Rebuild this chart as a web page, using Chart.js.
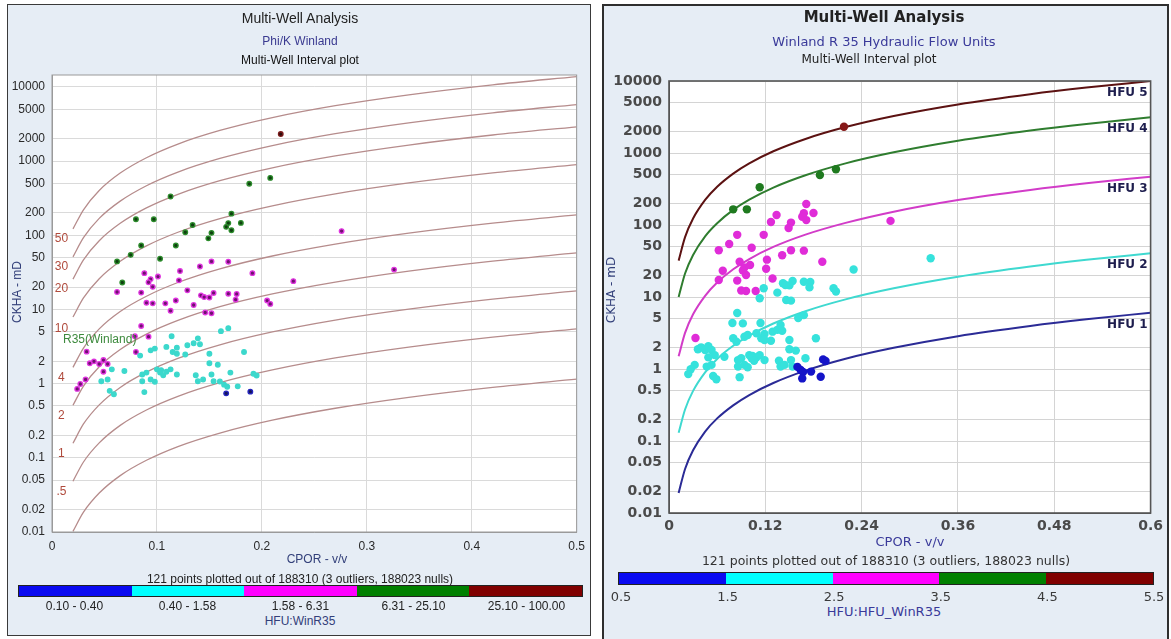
<!DOCTYPE html>
<html>
<head>
<meta charset="utf-8">
<script src="https://cdn.jsdelivr.net/npm/chart.js@4.4.1/dist/chart.umd.min.js"></script>
<style>
  body { margin: 0; width: 1171px; height: 639px; position: relative; overflow: hidden; background: #fff; }
  .panel { position: absolute; background: #e6edf5; box-sizing: border-box; }
  #panelL { left: 7px; top: 4px; width: 584px; height: 632px; border: 1px solid #3a3a3a; }
  #panelR { left: 602px; top: 4px; width: 567px; height: 645px; border: 2px solid #2e2e2e; }
  .txt { position: absolute; white-space: nowrap; transform: translate(-50%, -50%); line-height: 1; }
  .L { font-family: "Liberation Sans", Arial, sans-serif; }
  .R { font-family: "DejaVu Sans", Verdana, sans-serif; }
  .vert { transform: translate(-50%, -50%) rotate(-90deg); }
  canvas { position: absolute; }
  .bar { position: absolute; display: flex; border: 1px solid #222; box-sizing: border-box; }
  .bar div { flex: 1; }
</style>
</head>
<body>
<div class="panel" id="panelL"></div>
<div class="panel" id="panelR"></div>

<canvas id="chartL" width="592" height="572" style="left:0;top:0"></canvas>
<canvas id="chartR" width="565" height="550" style="left:603px;top:0"></canvas>

<!-- left panel text -->
<div class="txt L" style="left:300px;top:18px;font-size:14px;color:#222">Multi-Well Analysis</div>
<div class="txt L" style="left:300px;top:41px;font-size:12px;color:#3a3a90">Phi/K Winland</div>
<div class="txt L" style="left:300px;top:60px;font-size:12px;color:#111">Multi-Well Interval plot</div>
<div class="txt L vert" style="left:17px;top:292px;font-size:12px;color:#33407a">CKHA - mD</div>
<div class="txt L" style="left:317px;top:559px;font-size:12px;color:#33407a">CPOR - v/v</div>
<div class="txt L" style="left:300px;top:579px;font-size:12px;color:#222">121 points plotted out of 188310 (3 outliers, 188023 nulls)</div>
<div class="txt L" style="left:300px;top:621px;font-size:12px;color:#33407a">HFU:WinR35</div>

<!-- right panel text -->
<div class="txt R" style="left:884px;top:17px;font-size:15px;font-weight:bold;color:#222">Multi-Well Analysis</div>
<div class="txt R" style="left:884px;top:41px;font-size:13px;color:#3a3a9a">Winland R 35 Hydraulic Flow Units</div>
<div class="txt R" style="left:869px;top:59px;font-size:12px;color:#222">Multi-Well Interval plot</div>
<div class="txt R vert" style="left:611px;top:290px;font-size:12px;color:#33407a">CKHA - mD</div>
<div class="txt R" style="left:910px;top:541px;font-size:13px;color:#3a3a9a">CPOR - v/v</div>
<div class="txt R" style="left:886px;top:561px;font-size:12.5px;color:#333">121 points plotted out of 188310 (3 outliers, 188023 nulls)</div>
<div class="txt R" style="left:884px;top:611px;font-size:13px;color:#3a3a9a">HFU:HFU_WinR35</div>

<script>
// ---- axis ticks ----
const yTicks = [0.01, 0.02, 0.05, 0.1, 0.2, 0.5, 1, 2, 5, 10, 20, 50, 100, 200, 500, 1000, 2000, 5000, 10000];
const xTicksLeft = [0, 0.1, 0.2, 0.3, 0.4, 0.5];
const xTicksRight = [0, 0.12, 0.24, 0.36, 0.48, 0.6];

// ---- Winland R35 iso-lines on the left plot (K read at these porosities) ----
const isoPhi = [0.02, 0.03, 0.045, 0.065, 0.09, 0.12, 0.16, 0.21, 0.27, 0.34, 0.42, 0.5];
const isoR02 = [0.0102, 0.0185, 0.0335, 0.0576, 0.0927, 0.142, 0.216, 0.322, 0.466, 0.654, 0.892, 1.15];
const isoR05 = [0.0484, 0.0879, 0.159, 0.274, 0.441, 0.674, 1.03, 1.53, 2.22, 3.11, 4.24, 5.48];
const isoR1 = [0.157, 0.286, 0.518, 0.89, 1.43, 2.19, 3.34, 4.98, 7.21, 10.1, 13.8, 17.8];
const isoR2 = [0.512, 0.929, 1.69, 2.89, 4.66, 7.12, 10.9, 16.2, 23.4, 32.9, 44.9, 57.9];
const isoR4 = [1.66, 3.02, 5.48, 9.4, 15.1, 23.1, 35.3, 52.6, 76.1, 107, 146, 188];
const isoR10 = [7.91, 14.3, 26.0, 44.7, 72.0, 110, 168, 250, 362, 508, 693, 895];
const isoR20 = [25.7, 46.6, 84.5, 145, 234, 357, 545, 813, 1176, 1649, 2250, 2906];
const isoR30 = [51.2, 92.9, 169, 289, 466, 712, 1086, 1621, 2344, 3287, 4486, 5794];
const isoR50 = [122, 221, 402, 690, 1111, 1698, 2589, 3863, 5587, 7837, 10694, 13812];
const isoNames = ['', '.5', '1', '2', '4', '10', '20', '30', '50'];

// ---- HFU curves on the right plot ----
const hfuPhi = [0.012, 0.02, 0.03, 0.045, 0.06, 0.08, 0.1, 0.13, 0.17, 0.22, 0.28, 0.36, 0.45, 0.52, 0.6];
const hfu1Line = [0.019, 0.0409, 0.0742, 0.135, 0.206, 0.313, 0.435, 0.639, 0.949, 1.39, 1.97, 2.86, 3.96, 4.9, 6.05];
const hfu2Line = [0.13, 0.274, 0.497, 0.9, 1.38, 2.1, 2.91, 4.28, 6.35, 9.27, 13.2, 19.1, 26.5, 32.8, 40.5];
const hfu3Line = [1.5, 3.17, 5.75, 10.4, 15.9, 24.3, 33.7, 49.6, 73.5, 107, 153, 222, 307, 380, 469];
const hfu4Line = [10, 21.2, 38.4, 69.7, 106, 162, 225, 331, 491, 717, 1021, 1478, 2051, 2537, 3130];
const hfu5Line = [32, 68, 123, 223, 340, 518, 719, 1057, 1568, 2290, 3263, 4723, 6553, 8105, 10000];
const hfuNames = ['HFU 1', 'HFU 2', 'HFU 3', 'HFU 4', 'HFU 5'];

// ---- samples (CPOR v/v, CKHA mD), grouped by HFU ----
const hfu1Phi = [0.160, 0.164, 0.167, 0.166, 0.177, 0.189, 0.192, 0.195];
const hfu1K = [1.07, 0.97, 0.91, 0.74, 0.92, 0.78, 1.36, 1.29];
const hfu2Phi = [0.142, 0.154, 0.150, 0.145, 0.168, 0.176, 0.175, 0.118, 0.135, 0.146, 0.152, 0.113, 0.205, 0.208, 0.230, 0.326,
  0.085, 0.079, 0.092, 0.114, 0.161, 0.168, 0.129, 0.135, 0.141, 0.119, 0.080, 0.084, 0.094, 0.098, 0.109, 0.115, 0.119, 0.127, 0.150, 0.183, 0.150, 0.158, 0.139,
  0.036, 0.040, 0.045, 0.049, 0.053, 0.057, 0.049, 0.069, 0.086, 0.090, 0.100, 0.104, 0.109, 0.113, 0.103, 0.106, 0.119, 0.137, 0.152, 0.170,
  0.032, 0.027, 0.024, 0.047, 0.053, 0.086, 0.094, 0.098, 0.139, 0.144, 0.154, 0.055, 0.059, 0.088];
const hfu2K = [15.5, 16.7, 14.5, 14.7, 16.3, 16.2, 13.6, 13.2, 11.5, 9.1, 8.9, 9.6, 13.2, 11.9, 24.1, 34.5,
  6.0, 4.35, 4.3, 4.35, 5.1, 5.6, 3.3, 3.5, 3.4, 3.06, 2.67, 2.39, 2.81, 2.97, 3.13, 2.67, 2.53, 2.47, 2.53, 2.67, 1.88, 1.80, 4.08,
  1.88, 2.0, 1.84, 2.08, 1.84, 1.56, 1.45, 1.48, 1.33, 1.41, 1.56, 1.52, 1.45, 1.56, 1.41, 1.30, 1.33, 1.30, 1.33, 1.41,
  1.14, 0.99, 0.85, 1.08, 1.14, 1.08, 1.14, 1.06, 1.08, 1.14, 1.08, 0.80, 0.72, 0.77];
const hfu3Phi = [0.171, 0.168, 0.180, 0.166, 0.171, 0.134, 0.127, 0.152, 0.149, 0.085, 0.118, 0.062, 0.075, 0.103, 0.152, 0.168, 0.141,
  0.122, 0.088, 0.101, 0.094, 0.191, 0.067, 0.121, 0.092, 0.096, 0.062, 0.085, 0.129, 0.096, 0.108, 0.090, 0.033, 0.276];
const hfu3K = [196, 146, 147, 130, 117, 138, 110, 108, 91, 73, 73, 44.5, 54.5, 48.4, 44.5, 44, 38,
  33, 30.9, 27.8, 25.7, 30.9, 23.1, 24.7, 23.3, 20.2, 17.2, 16.9, 18.1, 12.1, 12.1, 12.3, 2.7, 114];
const hfu4Phi = [0.113, 0.080, 0.097, 0.188, 0.208];
const hfu4K = [334, 165, 165, 495, 594];
const hfu5Phi = [0.218];
const hfu5K = [2317];

// ---- colour bar legends ----
const winBins = [0.1, 0.4, 1.58, 6.31, 25.1, 100];
const winBinLabels = ['0.10 - 0.40', '0.40 - 1.58', '1.58 - 6.31', '6.31 - 25.10', '25.10 - 100.00'];
const hfuBarTicks = ['0.5', '1.5', '2.5', '3.5', '4.5', '5.5'];

// ---- styles ----
const barColors = ['#0a0af0', '#00ffff', '#ff00ff', '#008000', '#800000'];
const hfuDot = ['#1414c8', '#36e2dc', '#e02cd8', '#1f7a1f', '#861818'];
const hfuLineColor = ['#2b2b96', '#3fd9d0', '#d23cc8', '#2f7d2f', '#5c1212'];
const winFill = ['#15155a', '#3cd8cc', '#6e126e', '#0f400f', '#2e0b0b'];
const winEdge = ['#2424c0', '#3cd8cc', '#e034e0', '#2c8c2c', '#7a1a1a'];
const isoLabelDy = [0, 10, 10, 10, 10, 12, 10, 10, 10];

const isoSets = [isoR02, isoR05, isoR1, isoR2, isoR4, isoR10, isoR20, isoR30, isoR50];
const hfuLines = [hfu1Line, hfu2Line, hfu3Line, hfu4Line, hfu5Line];
const groupPhi = [hfu1Phi, hfu2Phi, hfu3Phi, hfu4Phi, hfu5Phi];
const groupK = [hfu1K, hfu2K, hfu3K, hfu4K, hfu5K];

function toXY(xs, ys) {
  return xs.map((x, i) => ({ x: x, y: ys[i] }));
}

// colour class on the left plot = WinR35 bin
function winClass(phi, k) {
  const r35 = Math.pow(10, 0.732 + 0.588 * Math.log10(k) - 0.864 * Math.log10(phi * 100));
  let c = 0;
  while (c < 4 && r35 >= winBins[c + 1]) c++;
  return c;
}

// ---- colour bars (html) ----
function makeBar(left, top, width, height) {
  const bar = document.createElement('div');
  bar.className = 'bar';
  bar.style.cssText = `left:${left}px;top:${top}px;width:${width}px;height:${height}px`;
  barColors.forEach(col => {
    const seg = document.createElement('div');
    seg.style.background = col;
    bar.appendChild(seg);
  });
  document.body.appendChild(bar);
}
function addText(x, y, str, cls, css) {
  const d = document.createElement('div');
  d.className = 'txt ' + cls;
  d.style.cssText = `left:${x}px;top:${y}px;` + css;
  d.textContent = str;
  document.body.appendChild(d);
}

makeBar(18, 585, 565, 12);
winBinLabels.forEach((s, i) => addText(18 + 565 / 10 * (2 * i + 1), 606, s, 'L', 'font-size:12px;color:#222'));
makeBar(618, 572, 536, 13);
hfuBarTicks.forEach((s, i) => addText(621 + 533 / 5 * i, 596, s, 'R', 'font-size:13px;color:#3a3a3a'));

// ---- plugins ----
const plotFrame = {
  id: 'plotFrame',
  beforeDraw(chart) {
    const a = chart.chartArea, c = chart.ctx;
    c.save();
    c.fillStyle = '#ffffff';
    c.fillRect(a.left, a.top, a.right - a.left, a.bottom - a.top);
    c.restore();
  },
  afterDraw(chart, args, opts) {
    const a = chart.chartArea, c = chart.ctx;
    c.save();
    c.strokeStyle = opts.color;
    c.lineWidth = opts.width;
    c.strokeRect(a.left, a.top, a.right - a.left, a.bottom - a.top);
    c.restore();
  }
};

const isoLabels = {
  id: 'isoLabels',
  afterDatasetsDraw(chart) {
    const xs = chart.scales.x, ys = chart.scales.y, c = chart.ctx;
    c.save();
    c.font = '12px "Liberation Sans", Arial, sans-serif';
    c.fillStyle = '#b04a3c';
    c.textAlign = 'center';
    c.textBaseline = 'middle';
    isoSets.forEach((arr, i) => {
      if (!isoNames[i]) return;
      c.fillText(isoNames[i], xs.getPixelForValue(0.009), ys.getPixelForValue(arr[0]) + isoLabelDy[i]);
    });
    c.fillStyle = '#3d8a3d';
    c.textAlign = 'left';
    c.fillText('R35(Winland)', xs.getPixelForValue(0.0105), ys.getPixelForValue(3.9));
    c.restore();
  }
};

const hfuLabels = {
  id: 'hfuLabels',
  afterDatasetsDraw(chart) {
    const ys = chart.scales.y, a = chart.chartArea, c = chart.ctx;
    c.save();
    c.font = 'bold 12px "DejaVu Sans", Verdana, sans-serif';
    c.fillStyle = '#1e1e4e';
    c.textAlign = 'right';
    c.textBaseline = 'middle';
    hfuLines.forEach((arr, i) => {
      c.fillText(hfuNames[i], a.right - 3, ys.getPixelForValue(arr[arr.length - 1]) + 12);
    });
    c.restore();
  }
};

// ---- left chart: Phi/K Winland ----
const allPhi = [].concat(...groupPhi);
const allK = [].concat(...groupK);
const leftCls = allPhi.map((p, i) => winClass(p, allK[i]));

const leftSets = isoSets.map(arr => ({
  data: toXY(isoPhi, arr),
  showLine: true,
  borderColor: '#b68c8c',
  borderWidth: 1.3,
  pointRadius: 0,
  cubicInterpolationMode: 'monotone'
}));
leftSets.unshift({
  data: toXY(allPhi, allK),
  pointRadius: 2.3,
  pointBorderWidth: 1.3,
  pointBackgroundColor: leftCls.map(c => winFill[c]),
  pointBorderColor: leftCls.map(c => winEdge[c])
});

const fontL = { family: '"Liberation Sans", Arial, sans-serif', size: 12 };

new Chart(document.getElementById('chartL'), {
  type: 'scatter',
  data: { datasets: leftSets },
  options: {
    responsive: false,
    animation: false,
    devicePixelRatio: 1,
    layout: { padding: { top: 75, right: 10, left: 0, bottom: 0 } },
    plugins: {
      legend: { display: false },
      tooltip: { enabled: false },
      plotFrame: { color: '#9a9a9a', width: 1 }
    },
    scales: {
      x: {
        type: 'linear', min: 0, max: 0.5,
        afterBuildTicks: s => { s.ticks = xTicksLeft.map(v => ({ value: v })); },
        afterFit: s => { s.height = 40; },
        grid: { color: '#dadada', drawTicks: false },
        border: { color: '#9a9a9a' },
        ticks: { padding: 7, font: fontL, color: '#2a2a2a', callback: v => String(v) }
      },
      y: {
        type: 'logarithmic', min: 0.01, max: 14500,
        afterBuildTicks: s => { s.ticks = yTicks.map(v => ({ value: v })); },
        afterFit: s => { s.width = 52; },
        grid: { color: '#dadada', drawTicks: false },
        border: { color: '#9a9a9a' },
        ticks: { padding: 7, autoSkip: false, font: fontL, color: '#2a2a2a', callback: v => String(v) }
      }
    }
  },
  plugins: [plotFrame, isoLabels]
});

// ---- right chart: Winland R35 hydraulic flow units ----
const rightSets = [];
groupPhi.forEach((phis, i) => {
  rightSets.push({
    data: toXY(phis, groupK[i]),
    pointRadius: 4.2,
    pointBorderWidth: 0,
    pointBackgroundColor: hfuDot[i]
  });
});
hfuLines.forEach((arr, i) => {
  rightSets.push({
    data: toXY(hfuPhi, arr),
    showLine: true,
    borderColor: hfuLineColor[i],
    borderWidth: 2,
    pointRadius: 0,
    cubicInterpolationMode: 'monotone'
  });
});

const fontR = { family: '"DejaVu Sans", Verdana, sans-serif', size: 14, weight: 'bold' };

new Chart(document.getElementById('chartR'), {
  type: 'scatter',
  data: { datasets: rightSets },
  options: {
    responsive: false,
    animation: false,
    devicePixelRatio: 1,
    layout: { padding: { top: 81, right: 14, left: 0, bottom: 0 } },
    plugins: {
      legend: { display: false },
      tooltip: { enabled: false },
      plotFrame: { color: '#555555', width: 1.6 }
    },
    scales: {
      x: {
        type: 'linear', min: 0, max: 0.6,
        afterBuildTicks: s => { s.ticks = xTicksRight.map(v => ({ value: v })); },
        afterFit: s => { s.height = 37; },
        grid: { color: '#d4d4d4', drawTicks: false },
        border: { color: '#555' },
        ticks: { padding: 5, font: fontR, color: '#4a4a4a', callback: v => String(v) }
      },
      y: {
        type: 'logarithmic', min: 0.01, max: 10000,
        afterBuildTicks: s => { s.ticks = yTicks.map(v => ({ value: v })); },
        afterFit: s => { s.width = 66; },
        grid: { color: '#d4d4d4', drawTicks: false },
        border: { color: '#555' },
        ticks: { padding: 7, autoSkip: false, font: fontR, color: '#4a4a4a', callback: v => String(v) }
      }
    }
  },
  plugins: [plotFrame, hfuLabels]
});
</script>
</body>
</html>
